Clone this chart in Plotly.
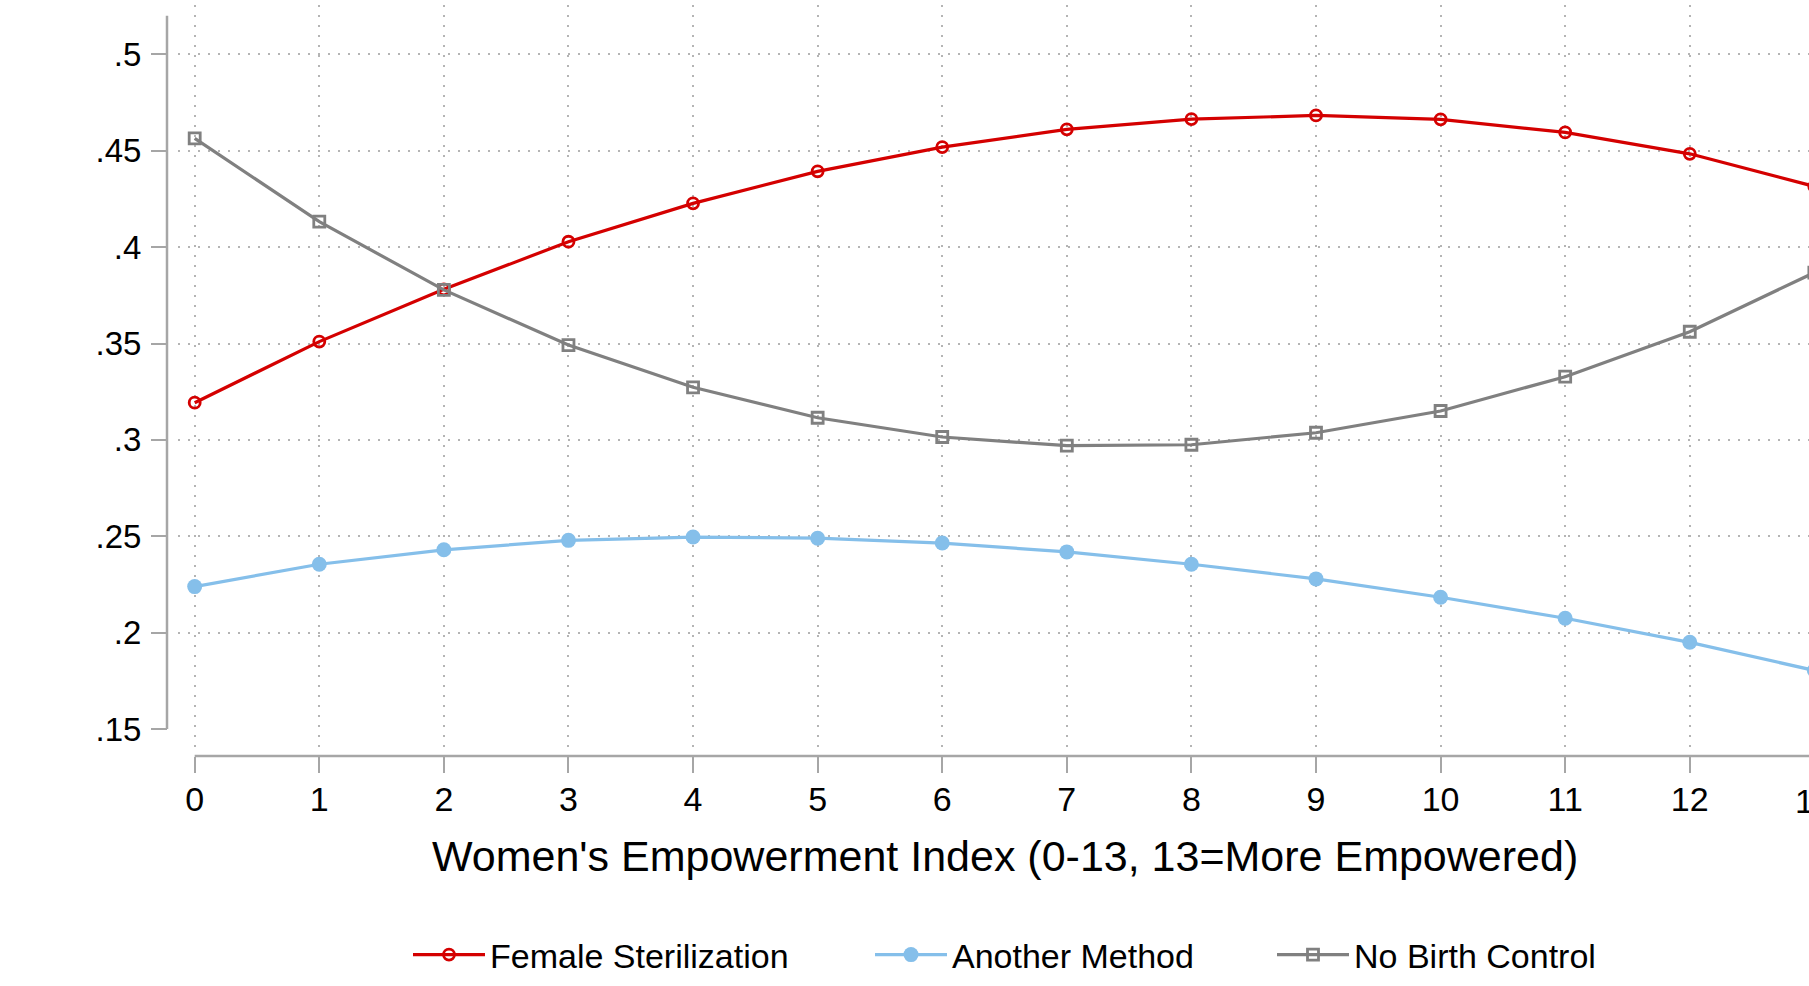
import plotly.graph_objects as go

# ---- data ----
empowerment = list(range(14))
female_sterilization = [0.3193, 0.3510, 0.3781, 0.4028, 0.4227, 0.4393, 0.4519,
                        0.4611, 0.4664, 0.4683, 0.4663, 0.4595, 0.4484, 0.4315]
another_method = [0.2239, 0.2355, 0.2430, 0.2479, 0.2496, 0.2490, 0.2465,
                  0.2419, 0.2355, 0.2279, 0.2184, 0.2075, 0.1950, 0.1804]
no_birth_control = [0.4564, 0.4132, 0.3778, 0.3492, 0.3273, 0.3115, 0.3015,
                    0.2970, 0.2975, 0.3037, 0.3150, 0.3328, 0.3561, 0.3868]
x_ticks = list(range(14))
y_ticks = [0.15, 0.20, 0.25, 0.30, 0.35, 0.40, 0.45, 0.50]
y_tick_text = [".15", ".2", ".25", ".3", ".35", ".4", ".45", ".5"]
y_grid = [0.20, 0.25, 0.30, 0.35, 0.40, 0.45, 0.50]
x_title = "Women's Empowerment Index (0-13, 13=More Empowered)"

# ---- layout geometry ----
W, H = 1809, 986
FONT = "Arial, Liberation Sans, Helvetica, sans-serif"
RED = "#d40000"
BLUE = "#85bfea"
GREY = "#808080"
AXIS = "#a6a6a6"
GRID = "#b4b4b4"

fig = go.Figure()
fig.add_trace(go.Scatter(
    x=empowerment, y=female_sterilization, name="Female Sterilization", legend="legend",
    mode="lines+markers", line=dict(color=RED, width=3.2),
    marker=dict(symbol="circle-open", size=11, color=RED, line=dict(width=2.8, color=RED))))
fig.add_trace(go.Scatter(
    x=empowerment, y=another_method, name="Another Method", legend="legend2",
    mode="lines+markers", line=dict(color=BLUE, width=3.2),
    marker=dict(symbol="circle", size=15, color=BLUE)))
fig.add_trace(go.Scatter(
    x=empowerment, y=no_birth_control, name="No Birth Control", legend="legend3",
    mode="lines+markers", line=dict(color=GREY, width=3.2),
    marker=dict(symbol="square-open", size=11, color=GREY, line=dict(width=2.8, color=GREY))))

x_left_px, y_top_px, y_bot_px = 178, 5, 747
yaxis_px, xaxis_px = 167, 756
legend_y = 1 - 955 / H
ITEMW = 72


def legend_box(left_px):
    return dict(orientation="h", x=left_px / W, xanchor="left", y=legend_y, yanchor="middle",
                font=dict(size=34, family=FONT), itemwidth=ITEMW, bgcolor="rgba(0,0,0,0)",
                borderwidth=0)


fig.update_layout(
    width=W, height=H, template="none",
    margin=dict(l=0, r=0, t=0, b=0, pad=0),
    paper_bgcolor="white", plot_bgcolor="white",
    font=dict(family=FONT, color="black"),
    showlegend=True,
    legend=legend_box(408),
    legend2=legend_box(870),
    legend3=legend_box(1272),
    xaxis=dict(
        domain=[x_left_px / W, 1], range=[-0.134, 12.957],
        anchor="free", position=1 - xaxis_px / H, automargin=False,
        tickmode="array", tickvals=x_ticks, ticks="outside", ticklen=16, tickwidth=2,
        tickcolor=AXIS, tickfont=dict(size=34, family=FONT), ticklabelstandoff=-3,
        showline=False, zeroline=False,
        showgrid=True, gridcolor=GRID, gridwidth=2, griddash="2px,8px",
    ),
    yaxis=dict(
        domain=[1 - y_bot_px / H, 1 - y_top_px / H], range=[0.1407, 0.5256],
        anchor="free", position=yaxis_px / W, automargin=False,
        tickmode="array", tickvals=y_ticks, ticktext=y_tick_text,
        ticks="outside", ticklen=16, tickwidth=2, tickcolor=AXIS,
        tickfont=dict(size=33, family=FONT), ticklabelstandoff=3,
        showline=False, zeroline=False, showgrid=False,
        minor=dict(tickmode="array", tickvals=y_grid, showgrid=True, ticks="",
                   gridcolor=GRID, gridwidth=2, griddash="2px,8px"),
    ),
)

# axis lines (Stata style, detached)
fig.add_shape(type="line", xref="paper", yref="y", x0=yaxis_px / W, x1=yaxis_px / W,
              y0=0.15, y1=0.52, line=dict(color=AXIS, width=2.5), layer="above")
fig.add_shape(type="line", xref="x", yref="paper", x0=0, x1=13,
              y0=1 - xaxis_px / H, y1=1 - xaxis_px / H, line=dict(color=AXIS, width=2.5), layer="above")

# x-axis title
fig.add_annotation(text=x_title, xref="paper", yref="paper", x=1005 / W, y=1 - 856 / H,
                   xanchor="center", yanchor="middle", showarrow=False,
                   font=dict(size=43, family=FONT, color="black"))

# tick label for 13, cut by the right edge like the original
fig.add_annotation(text="13", xref="paper", yref="paper", x=1814.3 / W,
                   y=1 - 801 / H, xanchor="center", yanchor="middle", showarrow=False,
                   font=dict(size=34, family=FONT, color="black"))

fig.write_html("out.html", config={"displayModeBar": False},
               post_script="document.body.style.margin='0';document.body.style.overflow='hidden';")
